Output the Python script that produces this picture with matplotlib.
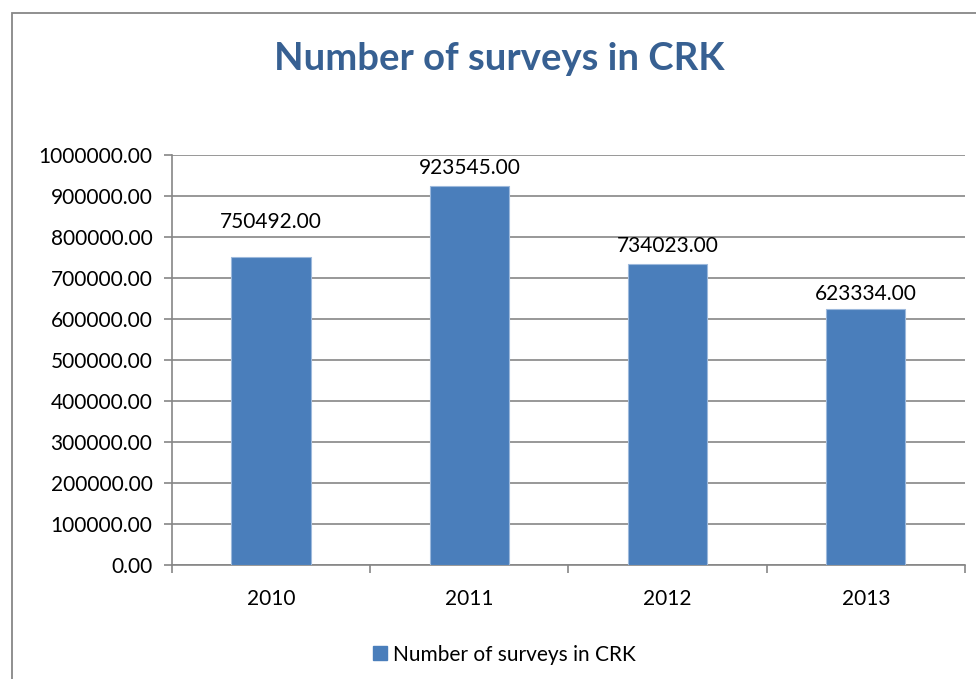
import matplotlib.pyplot as plt
from matplotlib.patches import Rectangle

plt.rcParams['font.family'] = ['Lato', 'DejaVu Sans']

years = ["2010", "2011", "2012", "2013"]
surveys = [750492.00, 923545.00, 734023.00, 623334.00]
# label offsets above bars (points); the first label sits higher
label_pad = [18, 6, 6, 4]

bar_color = "#4A7EBB"
grid_color = "#868686"

fig = plt.figure(figsize=(9.76, 6.79), dpi=100)
ax = fig.add_axes([0.1762, 0.1679, 0.8125, 0.6038])

# chart frame
fig.patches.append(Rectangle((12 / 976, -0.05), 1.2, (679 - 13) / 679 + 0.05,
                             transform=fig.transFigure, fill=False,
                             edgecolor="#878787", linewidth=1.3))

x = list(range(len(years)))
bars = ax.bar(x, surveys, width=0.4, color=bar_color, edgecolor="#9DB9DC",
              linewidth=0.8, zorder=3)

for i, (b, v) in enumerate(zip(bars, surveys)):
    ax.annotate(f"{v:.2f}", (b.get_x() + b.get_width() / 2, v),
                xytext=(0, label_pad[i]), textcoords="offset points",
                ha="center", va="bottom", fontsize=15, color="black")

ax.set_xlim(-0.5, 3.5)
ax.set_ylim(0, 1000000)
ax.set_yticks(range(0, 1000001, 100000))
ax.set_yticklabels([f"{t:.2f}" for t in range(0, 1000001, 100000)], fontsize=15)
ax.yaxis.grid(True, color=grid_color, linewidth=1.2, zorder=0)
ax.set_axisbelow(True)

ax.set_xticks([-0.5, 0.5, 1.5, 2.5, 3.5])
ax.set_xticklabels([])
ax.set_xticks(x, minor=True)
ax.set_xticklabels(years, minor=True, fontsize=15)
ax.tick_params(axis="x", which="minor", length=0, pad=17)
ax.tick_params(axis="x", which="major", length=6, width=1.2, color=grid_color)
ax.tick_params(axis="y", length=6, width=1.2, color=grid_color, pad=8)

for side in ["top", "right"]:
    ax.spines[side].set_visible(False)
for side in ["left", "bottom"]:
    ax.spines[side].set_color(grid_color)
    ax.spines[side].set_linewidth(1.2)

fig.text(0.512, 0.913, "Number of surveys in CRK", ha="center", va="center",
         fontsize=27.5, fontweight="bold", color="#376092")

handle = Rectangle((0, 0), 1, 1, color=bar_color)
fig.legend([handle], ["Number of surveys in CRK"], loc="center",
           bbox_to_anchor=(0.517, 0.036), frameon=False, fontsize=15,
           handlelength=0.65, handleheight=0.65, handletextpad=0.3)

fig.savefig("out.png", dpi=100)
